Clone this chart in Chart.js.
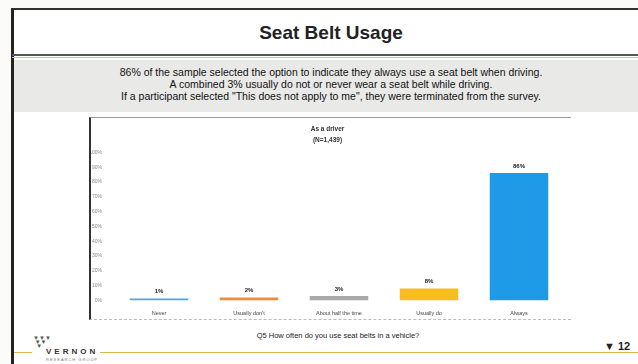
<!DOCTYPE html>
<html>
<head>
<meta charset="utf-8">
<script src="https://cdn.jsdelivr.net/npm/chart.js@4"></script>
<style>
  body { margin: 0; width: 638px; height: 364px; background: #fbfbfa; overflow: hidden; font-family: "Liberation Sans", Arial, sans-serif; }
  #slide { position: absolute; left: 11px; top: 8px; width: 640px; height: 370px; border-left: 3px solid #222; border-top: 2px solid #333; background: #fff; }
  #title { position: absolute; left: 0; width: 662px; top: 22px; text-align: center; font-size: 19px; font-weight: bold; color: #222; }
  #sep1 { position: absolute; left: 12px; top: 54px; width: 630px; height: 2px; background: #555; }
  #sep2 { position: absolute; left: 12px; top: 57px; width: 630px; height: 1px; background: #e2c255; }
  #band { position: absolute; left: 14px; top: 60px; width: 630px; height: 52px; background: #e9e9e8; }
  #band p { margin: 0; position: absolute; left: 0; width: 634px; text-align: center; font-size: 10.5px; color: #111; }
  #box { position: absolute; left: 89px; top: 117px; width: 480px; height: 201px; border-left: 2px solid #333; border-top: 1px solid #999; border-bottom: 1px dashed #bbb; background: #fff; }
  #q { position: absolute; left: 0; width: 676px; top: 331px; text-align: center; font-size: 7.5px; color: #222; }
  #gold { position: absolute; left: 14px; top: 352px; width: 630px; height: 1px; background: #d9b84a; }
  #logo { position: absolute; left: 32px; top: 336px; width: 68px; height: 28px; background: #fff; }
  #dots { position: absolute; left: 1px; top: 0; font-size: 6px; line-height: 4px; color: #555; }
  #vernon { position: absolute; left: 14px; top: 11px; font-size: 8px; font-weight: bold; letter-spacing: 3px; color: #333; }
  #sub { position: absolute; left: 14px; top: 21px; font-size: 4px; letter-spacing: 1px; color: #777; }
  #page { position: absolute; left: 604px; top: 340px; font-size: 11px; font-weight: bold; color: #222; }
</style>
</head>
<body>
<div id="slide"></div>
<div id="title">Seat Belt Usage</div>
<div id="sep1"></div>
<div id="sep2"></div>
<div id="band">
  <p style="top:6px">86% of the sample selected the option to indicate they always use a seat belt when driving.</p>
  <p style="top:18px">A combined 3% usually do not or never wear a seat belt while driving.</p>
  <p style="top:30px">If a participant selected "This does not apply to me", they were terminated from the survey.</p>
</div>
<div id="box"><canvas id="myChart" width="480" height="201"></canvas></div>
<div id="q">Q5 How often do you use seat belts in a vehicle?</div>
<div id="gold"></div>
<div id="logo">
  <div id="dots">▼▼▼<br>&nbsp;▼▼<br>&nbsp;&nbsp;▼</div>
  <div id="vernon">VERNON</div>
  <div id="sub">RESEARCH GROUP</div>
</div>
<div id="page">▼ 12</div>
<script>
const labels = ["Never", "Usually don't", "About half the time", "Usually do", "Always"];
const values = [1, 2, 3, 8, 86];
const colors = ["#4aa6e6", "#f08a3c", "#a9a9a9", "#f5bd1f", "#1f9ae6"];
const yTicks = [0, 10, 20, 30, 40, 50, 60, 70, 80, 90, 100];

const barLabels = {
  id: "barLabels",
  afterDatasetsDraw(chart) {
    const ctx = chart.ctx;
    const meta = chart.getDatasetMeta(0);
    ctx.save();
    ctx.font = "bold 6px 'Liberation Sans', Arial, sans-serif";
    ctx.fillStyle = "#222";
    ctx.textAlign = "center";
    ctx.textBaseline = "bottom";
    meta.data.forEach((bar, i) => {
      ctx.fillText(values[i] + "%", bar.x, bar.y - 4);
    });
    ctx.restore();
  },
};

const config = {
  type: "bar",
  data: {
    labels: labels,
    datasets: [
      {
        data: values,
        backgroundColor: colors,
        categoryPercentage: 1,
        barPercentage: 0.65,
        minBarLength: 2,
      },
    ],
  },
  options: {
    responsive: false,
    animation: false,
    layout: { padding: { left: 0, right: 7, top: 0, bottom: 0 } },
    plugins: {
      legend: { display: false },
      tooltip: { enabled: false },
      title: {
        display: true,
        text: ["As a driver", "(N=1,439)"],
        font: { size: 6.5, weight: "bold", lineHeight: 1.8 },
        color: "#333",
        padding: { top: 5, bottom: 6 },
      },
    },
    scales: {
      x: {
        grid: { display: false },
        border: { display: false },
        ticks: { font: { size: 5.5 }, color: "#444", padding: 2, maxRotation: 0 },
      },
      y: {
        min: 0,
        max: 100,
        afterBuildTicks(axis) {
          axis.ticks = yTicks.map((v) => ({ value: v }));
        },
        afterFit(axis) {
          axis.width = 23;
        },
        grid: { display: false },
        border: { display: false },
        ticks: {
          font: { size: 5 },
          color: "#888",
          padding: 4,
          callback: (v) => v + "%",
        },
      },
    },
  },
  plugins: [barLabels],
};

Chart.defaults.font.family = "'Liberation Sans', Arial, sans-serif";

let myChart = new Chart(document.getElementById("myChart"), config);
</script>
</body>
</html>
